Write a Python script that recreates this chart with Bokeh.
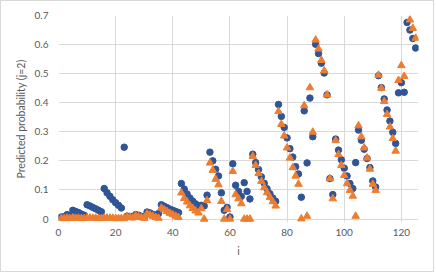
import math
from bokeh.plotting import figure
from bokeh.models import Range1d, FixedTicker, ColumnDataSource
from bokeh.embed import file_html
from bokeh.resources import INLINE

NAN = float("nan")

idx = list(range(1, 126))

blue_vals = [
    0.007, 0.008, 0.015, 0.010, 0.030, 0.026, 0.022, 0.017, 0.013, 0.049,
    0.045, 0.040, 0.035, 0.030, 0.025, 0.105, 0.090, 0.078, 0.066, 0.056,
    0.047, 0.038, 0.247, 0.010, 0.009, 0.008, 0.015, 0.013, 0.009, 0.007,
    0.024, 0.021, 0.016, 0.012, 0.019, 0.049, 0.044, 0.039, 0.034, 0.030,
    0.026, 0.022, 0.122, 0.103, 0.086, 0.072, 0.061, 0.052, 0.043, 0.047,
    0.045, 0.082, 0.230, 0.200, 0.171, 0.148, 0.090, 0.030, 0.040, 0.007,
    0.190, 0.116, 0.095, 0.078, 0.125, 0.095, 0.069, 0.223, 0.194, 0.170,
    0.145, 0.123, 0.104, 0.087, 0.072, 0.061, 0.394, 0.353, 0.315, 0.279,
    0.242, 0.213, 0.180, 0.155, 0.075, 0.372, 0.193, 0.416, 0.283, 0.601,
    0.569, 0.536, 0.502, 0.427, 0.139, 0.084, 0.275, 0.237, 0.204, 0.175,
    0.148, 0.122, 0.105, 0.194, 0.306, 0.271, 0.240, 0.208, 0.177, 0.131,
    0.110, 0.493, 0.452, 0.413, 0.375, 0.337, 0.298, 0.260, 0.434, 0.469,
    0.436, 0.676, 0.650, 0.621, 0.588,
]

orange_vals = [
    0.002, 0.002, 0.004, 0.002, 0.004, 0.003, 0.003, 0.002, 0.002, 0.004,
    0.004, 0.003, 0.003, 0.002, 0.002, 0.004, 0.004, 0.003, 0.003, 0.002,
    0.002, 0.002, 0.002, 0.008, 0.006, 0.004, 0.011, 0.008, 0.005, 0.003,
    0.018, 0.014, 0.010, 0.006, 0.003, 0.038, 0.032, 0.026, 0.020, 0.015,
    0.010, 0.006, 0.090, 0.071, 0.059, 0.046, 0.037, 0.028, 0.021, 0.036,
    0.000, 0.064, 0.193, 0.168, 0.137, 0.118, 0.061, 0.000, 0.033, 0.000,
    0.164, 0.084, 0.070, 0.053, 0.000, 0.000, 0.000, 0.216, 0.185, 0.157,
    0.130, 0.108, 0.091, 0.075, 0.060, 0.045, 0.370, 0.326, 0.286, 0.245,
    0.210, 0.177, 0.148, 0.120, 0.001, 0.390, 0.010, 0.452, 0.299, 0.616,
    0.585, 0.546, 0.510, 0.427, 0.139, 0.070, 0.270, 0.222, 0.185, 0.150,
    0.122, 0.099, 0.079, 0.010, 0.321, 0.283, 0.245, 0.210, 0.172, 0.120,
    0.099, 0.495, 0.450, 0.405, 0.360, 0.317, 0.277, 0.234, 0.477, 0.528,
    0.491, NAN, 0.685, 0.656, 0.622,
]

x_ticks = [0, 20, 40, 60, 80, 100, 120]
y_ticks = [0, 0.1, 0.2, 0.3, 0.4, 0.5, 0.6, 0.7]
y_label = "Predicted probability (j=2)"
x_label = "i"

FONT = "Lato"
TXT = "#595959"
GRID = "#d9d9d9"

p = figure(
    width=434, height=272,
    output_backend="svg", toolbar_location=None,
    x_range=Range1d(0, 126), y_range=Range1d(-0.012, 0.7),
    min_border_left=57, min_border_right=17,
    min_border_top=14, min_border_bottom=51,
)
p.outline_line_color = None
p.background_fill_color = "white"
p.border_fill_color = "white"
p.styles = {"border": "1px solid #d9d9d9", "box-sizing": "border-box"}

p.xaxis.ticker = FixedTicker(ticks=x_ticks)
p.yaxis.ticker = FixedTicker(ticks=y_ticks)
p.yaxis.major_label_overrides = {0: "0", 0.1: "0.1", 0.2: "0.2", 0.3: "0.3",
                                 0.4: "0.4", 0.5: "0.5", 0.6: "0.6", 0.7: "0.7"}

for ax in (p.xaxis[0], p.yaxis[0]):
    ax.axis_line_color = None
    ax.major_tick_line_color = None
    ax.minor_tick_line_color = None
    ax.major_label_text_font = FONT
    ax.major_label_text_font_size = "10px"
    ax.major_label_text_color = TXT
    ax.axis_label_text_font = FONT
    ax.axis_label_text_font_size = "10.5px"
    ax.axis_label_text_font_style = "normal"
    ax.axis_label_text_color = TXT
    ax.major_tick_out = 0
    ax.major_tick_in = 0

p.xaxis.major_label_standoff = 6
p.xaxis.axis_label_standoff = 6
p.yaxis.major_label_standoff = 10
p.yaxis.axis_label_standoff = 5
p.xaxis.axis_label = x_label
p.yaxis.axis_label = y_label

p.xgrid.grid_line_color = GRID
p.ygrid.grid_line_color = GRID
p.xgrid.grid_line_width = 1
p.ygrid.grid_line_width = 1

src = ColumnDataSource(dict(i=idx, b=blue_vals, o=orange_vals))
p.scatter("i", "b", source=src, marker="circle", size=6.5,
          fill_color="#2f5597", line_color="#2f5597")
p.scatter("i", "o", source=src, marker="triangle", size=7.5,
          fill_color="#ed7d31", line_color="#ed7d31")

open("out.html", "w").write(file_html(p, INLINE))
